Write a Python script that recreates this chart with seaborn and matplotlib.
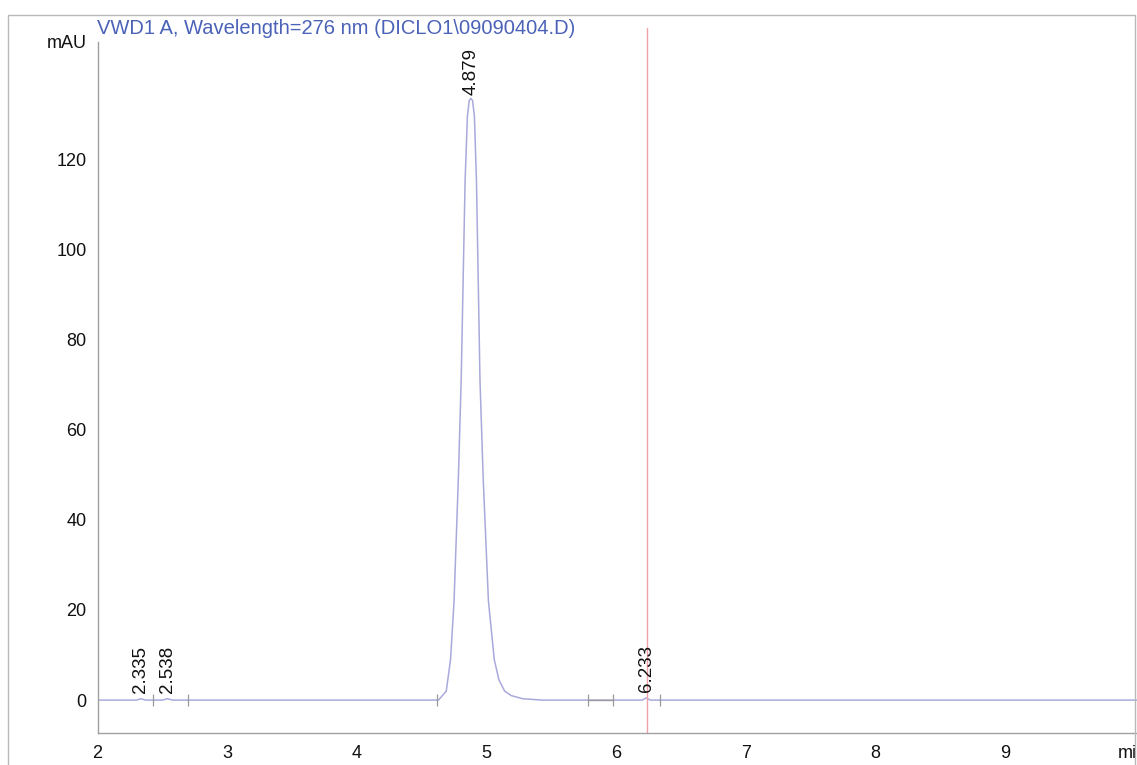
import matplotlib
matplotlib.use("Agg")
import matplotlib.pyplot as plt
from matplotlib.patches import Rectangle
from matplotlib.ticker import MultipleLocator
import seaborn as sns
import pandas as pd

# Detector signal (retention time in min, absorbance in mAU)
time_min = [2.00, 2.10, 2.30, 2.335, 2.37, 2.50, 2.538, 2.58, 4.55, 4.629, 4.689,
            4.722, 4.749, 4.782, 4.804, 4.834, 4.852, 4.866, 4.879, 4.892,
            4.906, 4.922, 4.949, 4.974, 5.014, 5.059, 5.095, 5.139, 5.19,
            5.279, 5.43, 6.00, 6.20, 6.233, 6.26, 10.02]
absorbance = [0.0, 0.0, 0.0, 0.3, 0.0, 0.0, 0.3, 0.0, 0.0, 0.0, 2.0,
              9.0, 22.0, 49.0, 71.0, 115.0, 129.5, 133.0, 133.5, 133.0,
              129.5, 115.0, 71.0, 49.0, 22.0, 9.0, 4.5, 2.0, 1.0,
              0.3, 0.0, 0.0, 0.0, 0.5, 0.0, 0.0]

# Integrated peaks: retention times and signal at apex
peak_times = [2.335, 2.538, 4.879, 6.233]
peak_heights = [0.3, 0.3, 133.5, 0.5]
peak_labels = ["2.335", "2.538", "4.879", "6.233"]

# Baseline event markers from the integrator
event_times = [2.428, 2.700, 4.618, 5.780, 5.975, 6.337]

x_ticks = [2, 3, 4, 5, 6, 7, 8, 9]
y_ticks = [0, 20, 40, 60, 80, 100, 120]
title = "VWD1 A, Wavelength=276 nm (DICLO1\\09090404.D)"

sns.set_style("white")
plt.rcParams["font.family"] = ["Liberation Sans", "DejaVu Sans"]

W, H = 1137, 765
fig = plt.figure(figsize=(W / 100, H / 100), dpi=100)
ax = fig.add_axes([97.5 / W, 32 / H, (W - 97.5) / W, (733 - 42) / H])

signal = pd.DataFrame({"time": time_min, "mAU": absorbance})
sns.lineplot(data=signal, x="time", y="mAU", ax=ax, color="#a9a9dc",
             linewidth=1.1, sort=False, estimator=None)

# baseline segment between two integration events
ax.plot([event_times[3], event_times[4]], [0, 0], color="#9a9a9a", lw=1.0)
ax.vlines(event_times, -1.3, 1.3, color="#9a9a9a", lw=0.9)

# marker line at 6.233 min
ax.axvline(peak_times[3], ymin=0, ymax=1.02, color="#f2a0a8", lw=1.0,
           clip_on=False)

for t, h, lab in zip(peak_times, peak_heights, peak_labels):
    off = 1.2 if h < 10 else 0.8
    ax.text(t, h + off, lab, rotation=90, ha="center", va="bottom",
            fontsize=13.5, color="#111111", clip_on=False)

ax.set_xlim(2, 2 + (W - 97.5) / 129.7)
ax.set_ylim(-7.3, 146)
ax.set_xticks(x_ticks)
ax.set_xticklabels([str(v) for v in x_ticks])
ax.set_yticks(y_ticks + [146])
ax.set_yticklabels([str(v) for v in y_ticks] + ["mAU"])
ax.xaxis.set_minor_locator(MultipleLocator(0.2))
ax.yaxis.set_minor_locator(MultipleLocator(5))
ax.set_xlabel("")
ax.set_ylabel("")

for side in ("top", "right"):
    ax.spines[side].set_visible(False)
for side in ("left", "bottom"):
    ax.spines[side].set_color("#a0a0a0")
    ax.spines[side].set_linewidth(1.0)

ax.tick_params(axis="both", which="major", direction="out", length=5,
               width=0.9, color="#a0a0a0", labelsize=13,
               labelcolor="#111111", pad=3)
ax.tick_params(axis="both", which="minor", direction="out", length=3,
               width=0.8, color="#a0a0a0")
ax.tick_params(axis="x", which="major", length=6, pad=3)

# axis unit at the right end of the time axis
ax.text(9.87, -10.0, "min", ha="left", va="top",
        fontsize=13, color="#111111", clip_on=False)

fig.text(97 / W, 1 - 28 / H, title, ha="left", va="center",
         fontsize=14.5, color="#4a62b8")

# outer frame of the report page
fig.add_artist(Rectangle((8 / W, -0.05), (1135 - 8) / W, 1.05 - 15 / H,
                         transform=fig.transFigure, fill=False,
                         edgecolor="#b8b8b8", lw=1.0))

fig.savefig("out.png", dpi=100)
